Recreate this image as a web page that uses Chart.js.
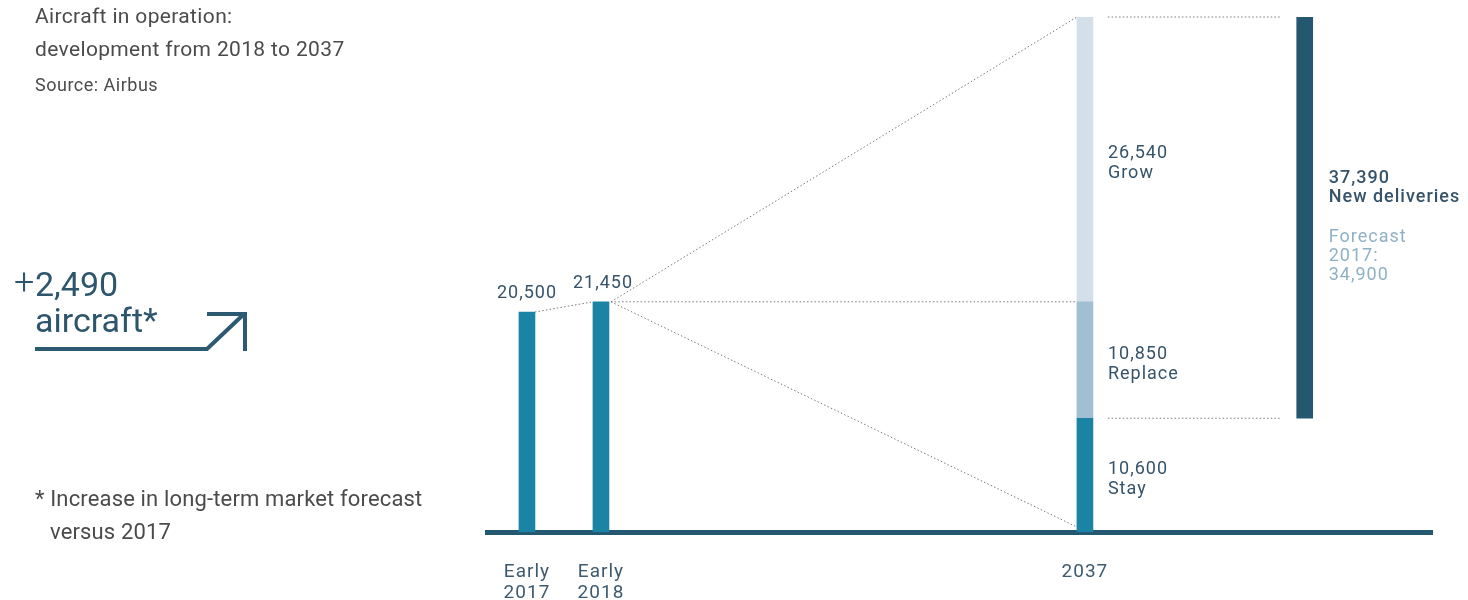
<!DOCTYPE html>
<html>
<head>
<meta charset="utf-8">
<title>Aircraft in operation</title>
<script src="https://cdn.jsdelivr.net/npm/chart.js@4.4.1/dist/chart.umd.min.js"></script>
<style>
  html, body { margin: 0; padding: 0; background: #fff; }
  #wrap { position: relative; width: 1468px; height: 600px; font-family: Roboto, sans-serif; overflow: hidden; }
  #chart { position: absolute; left: 0; top: 0; }
  .txt { position: absolute; white-space: nowrap; color: #4b4b4b; }
  #title { left: 35px; top: 0px; font-size: 21px; line-height: 33px; letter-spacing: 0.35px; }
  #source { left: 35px; top: 73px; font-size: 18px; line-height: 24px; letter-spacing: 0.5px; }
  .big { font-size: 34px; line-height: 36px; color: #2d566d; }
  #plus { left: 14px; top: 264px; font-weight: 300; font-size: 36px; }
  #num { left: 35px; top: 266px; }
  #word { left: 35px; top: 302px; }
  #foot { left: 35px; top: 482px; font-size: 22px; line-height: 33px; letter-spacing: 0.15px; }
  #foot span { display: block; padding-left: 15px; }
  #arrow { position: absolute; left: 0; top: 0; }
</style>
</head>
<body>
<div id="wrap">
  <canvas id="chart" width="1468" height="600"></canvas>
  <div class="txt" id="title">Aircraft in operation:<br>development from 2018 to 2037</div>
  <div class="txt" id="source">Source: Airbus</div>
  <div class="txt big" id="plus">+</div>
  <div class="txt big" id="num">2,490</div>
  <div class="txt big" id="word">aircraft*</div>
  <svg id="arrow" width="300" height="400">
    <polyline points="35,349 207,349 244,314" fill="none" stroke="#2b5a72" stroke-width="4"/>
    <polyline points="207,314 245,314 245,351" fill="none" stroke="#2b5a72" stroke-width="4"/>
  </svg>
  <div class="txt" id="foot">* Increase in long-term market forecast<span>versus 2017</span></div>
</div>
<script>
// aircraft in operation, early 2017 / early 2018
const inOperation = [20500, 21450];
// 2037 fleet split
const fleet2037 = { stay: 10600, replace: 10850, grow: 26540 };
const segmentNames = ['Stay', 'Replace', 'Grow'];
const segmentValues = [fleet2037.stay, fleet2037.replace, fleet2037.grow];
const newDeliveries = 37390;
const forecast2017 = 34900;
const tickLabels = [['Early', '2017'], ['Early', '2018'], '2037'];

// horizontal slot of each column on the x scale
const slotX = [0.54, 1.54, 8.08, 11.05];
const X_MAX = 12.77;

const TEAL = '#1b83a3';
const REPLACE_BLUE = '#a1bfd3';
const GROW_BLUE = '#d3e0ea';
const DARK = '#245870';
const LABEL = '#36536a';
const FORECAST = '#8fb1c5';

const fmt = n => n.toLocaleString('en-US');

const stayTop = fleet2037.stay;
const replaceTop = stayTop + fleet2037.replace;
const growTop = replaceTop + fleet2037.grow;

const annotate = {
    id: 'annotate',
    beforeDraw(chart) {
        // spaced lettering for every canvas text, ticks included
        chart.ctx.letterSpacing = '1px';
    },
    afterDatasetsDraw(chart) {
        const ctx = chart.ctx;
        const bar = (ds, i) => chart.getDatasetMeta(ds).data[i];
        const b17 = bar(0, 0), b18 = bar(0, 1);
        const stay = bar(1, 0), repl = bar(2, 0), grow = bar(3, 0), deliv = bar(4, 0);
        const half = b => b.width / 2;

        ctx.save();
        // dotted connectors
        ctx.strokeStyle = '#7a7a7a';
        ctx.lineWidth = 1;
        ctx.setLineDash([1.5, 2.2]);
        const line = (x1, y1, x2, y2) => {
            ctx.beginPath(); ctx.moveTo(x1, y1); ctx.lineTo(x2, y2); ctx.stroke();
        };
        line(b17.x + half(b17), b17.y, b18.x - half(b18), b18.y);
        const fromX = b18.x + half(b18) + 2, fromY = b18.y;
        const toX = grow.x - half(grow);
        line(fromX, fromY, toX, grow.y);
        line(fromX, fromY, toX, repl.y);
        line(fromX, fromY, toX, stay.base - 5);
        line(grow.x + half(grow) + 15, deliv.y, deliv.x - half(deliv) - 16, deliv.y);
        line(grow.x + half(grow) + 15, deliv.base, deliv.x - half(deliv) - 16, deliv.base);
        ctx.setLineDash([]);

        ctx.font = '18px Roboto';
        ctx.letterSpacing = '1px';
        ctx.fillStyle = LABEL;
        ctx.textBaseline = 'alphabetic';

        // values above the early bars
        ctx.textAlign = 'center';
        ctx.fillText(fmt(inOperation[0]), b17.x, b17.y - 14);
        ctx.fillText(fmt(inOperation[1]), b18.x + 2, b18.y - 14);

        // 2037 segments
        ctx.textAlign = 'left';
        [stay, repl, grow].forEach((seg, i) => {
            const mid = (seg.y + seg.base) / 2;
            const x = seg.x + half(seg) + 15;
            ctx.fillText(fmt(segmentValues[i]), x, mid - 1);
            ctx.fillText(segmentNames[i], x, mid + 18.5);
        });

        // new deliveries column
        const mid = (deliv.y + deliv.base) / 2;
        const x = deliv.x + half(deliv) + 16;
        ctx.font = '500 18px Roboto';
        ctx.fillText(fmt(newDeliveries), x, mid - 35);
        ctx.fillText('New deliveries', x, mid - 15.5);
        ctx.font = '18px Roboto';
        ctx.fillStyle = FORECAST;
        ctx.fillText('Forecast', x, mid + 24);
        ctx.fillText('2017:', x, mid + 43);
        ctx.fillText(fmt(forecast2017), x, mid + 62);
        ctx.restore();
    }
};

new Chart(document.getElementById('chart'), {
    type: 'bar',
    data: {
        datasets: [
            {
                label: 'In operation',
                data: inOperation.map((v, i) => ({ x: slotX[i], y: [0, v] })),
                backgroundColor: TEAL
            },
            {
                label: 'Stay',
                data: [{ x: slotX[2], y: [0, stayTop] }],
                backgroundColor: TEAL
            },
            {
                label: 'Replace',
                data: [{ x: slotX[2], y: [stayTop, replaceTop] }],
                backgroundColor: REPLACE_BLUE
            },
            {
                label: 'Grow',
                data: [{ x: slotX[2], y: [replaceTop, growTop] }],
                backgroundColor: GROW_BLUE
            },
            {
                label: 'New deliveries',
                data: [{ x: slotX[3], y: [stayTop, stayTop + newDeliveries] }],
                backgroundColor: DARK
            }
        ]
    },
    options: {
        responsive: false,
        animation: false,
        grouped: false,
        barThickness: 16,
        borderSkipped: false,
        layout: { padding: { left: 487, right: 36, top: 17, bottom: -34 } },
        plugins: {
            legend: { display: false },
            tooltip: { enabled: false }
        },
        scales: {
            x: {
                type: 'linear',
                min: 0,
                max: X_MAX,
                offset: false,
                grid: { display: false, drawTicks: false },
                border: { display: true, color: DARK, width: 5 },
                afterBuildTicks: scale => {
                    scale.ticks = slotX.slice(0, 3).map(v => ({ value: v }));
                },
                ticks: {
                    autoSkip: false,
                    maxRotation: 0,
                    padding: 30,
                    color: '#3e5a6e',
                    font: { family: 'Roboto', size: 19, lineHeight: 21 / 19 },
                    callback: (value, index) => tickLabels[index]
                }
            },
            y: {
                display: false,
                min: 0,
                max: growTop
            }
        }
    },
    plugins: [annotate]
});
</script>
</body>
</html>
